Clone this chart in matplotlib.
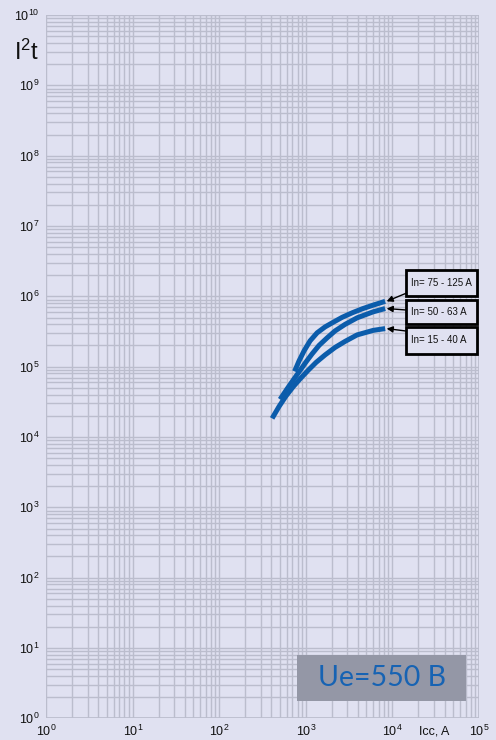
import matplotlib
matplotlib.use("Agg")
import matplotlib.pyplot as plt
import matplotlib.patches as patches
import numpy as np

plt.rcParams['font.family'] = ['Liberation Sans', 'DejaVu Sans']
plt.rcParams['mathtext.fontset'] = 'custom'
plt.rcParams['mathtext.rm'] = 'Liberation Sans'

# Let-through energy curves, I2t (A^2 s) vs prospective current Icc (A)
icc_75_125 = [740, 834, 953, 1118, 1348, 1667, 2063, 2621, 3421, 4464, 5983, 8235]
i2t_75_125 = [8.57e4, 1.21e5, 1.68e5, 2.33e5, 3.03e5, 3.68e5, 4.27e5, 5.03e5, 5.83e5, 6.64e5, 7.50e5, 8.49e5]

icc_50_63 = [503, 606, 730, 857, 1005, 1179, 1421, 1759, 2176, 2840, 3907, 5983, 8235]
i2t_50_63 = [3.43e4, 4.83e4, 6.71e4, 8.86e4, 1.17e5, 1.52e5, 2.01e5, 2.57e5, 3.23e5, 4.00e5, 4.95e5, 6.02e5, 6.71e5]

icc_15_40 = [407, 490, 590, 711, 857, 1060, 1312, 1667, 2176, 2840, 3907, 5983, 8235]
i2t_15_40 = [1.84e4, 2.72e4, 3.84e4, 5.16e4, 6.71e4, 8.86e4, 1.15e5, 1.47e5, 1.88e5, 2.29e5, 2.83e5, 3.28e5, 3.48e5]

curve_labels = ['In= 75 - 125 A', 'In= 50 - 63 A', 'In= 15 - 40 A']
x_decades = [0, 1, 2, 3, 4, 5]
y_decades = list(range(0, 11))

BG = '#e0e1f1'
GRID = '#bbbdcd'
LINE = '#0b5cab'

fig = plt.figure(figsize=(4.96, 7.40), dpi=100, facecolor=BG)
ax = fig.add_axes([0.0933, 0.0293, 0.8724, 0.9504])
ax.set_facecolor(BG)
ax.set_xscale('log')
ax.set_yscale('log')
ax.set_xlim(1, 1e5)
ax.set_ylim(1, 1e10)

ax.xaxis.set_minor_locator(matplotlib.ticker.LogLocator(base=10, subs=np.arange(2, 10), numticks=20))
ax.yaxis.set_minor_locator(matplotlib.ticker.LogLocator(base=10, subs=np.arange(2, 10), numticks=20))
ax.grid(True, which='both', color=GRID, linewidth=1.0)
for s in ax.spines.values():
    s.set_visible(False)
ax.axhline(1, color=GRID, linewidth=1.2)
ax.axvline(1, color=GRID, linewidth=1.2)
ax.axvline(1e5, color=GRID, linewidth=1.2)
ax.axhline(1e10, color=GRID, linewidth=1.2)

ax.set_xticks([10.0 ** k for k in x_decades])
ax.set_xticklabels([f'$\\mathregular{{10^{{{k}}}}}$' for k in x_decades])
ax.set_yticks([10.0 ** k for k in y_decades])
ax.set_yticklabels([f'$\\mathregular{{10^{{{k}}}}}$' for k in y_decades])
ax.xaxis.set_minor_formatter(matplotlib.ticker.NullFormatter())
ax.yaxis.set_minor_formatter(matplotlib.ticker.NullFormatter())
ax.tick_params(which='both', length=0, labelsize=9, colors='#111111')
ax.tick_params(axis='x', pad=4)
ax.tick_params(axis='y', pad=5)

for xs, ys in [(icc_15_40, i2t_15_40), (icc_50_63, i2t_50_63), (icc_75_125, i2t_75_125)]:
    ax.plot(xs, ys, color=LINE, linewidth=3.6, solid_capstyle='butt', solid_joinstyle='round', zorder=5)

# label boxes with arrows pointing at curve ends
boxes = [(0.6005, 0.6374), (0.5606, 0.5948), (0.518, 0.5568)]
ends = [(icc_75_125[-1], i2t_75_125[-1]), (icc_50_63[-1], i2t_50_63[-1]), (icc_15_40[-1], i2t_15_40[-1])]
starts = [0.6043, 0.5806, 0.5507]
bx0, bx1 = 0.8313, 0.9947
for (y0, y1), label, end, sy in zip(boxes, curve_labels, ends, starts):
    ax.add_patch(patches.Rectangle((bx0, y0), bx1 - bx0, y1 - y0, transform=ax.transAxes,
                                   facecolor=BG, edgecolor='black', linewidth=2.0, zorder=6))
    ax.text(bx0 + 0.011, (y0 + y1) / 2, label, transform=ax.transAxes, ha='left', va='center',
            fontsize=7.0, color='#111111', zorder=7)
    ax.annotate('', xy=(end[0] * 1.04, end[1]), xycoords='data',
                xytext=(bx0, sy), textcoords='axes fraction',
                arrowprops=dict(arrowstyle='-|>', color='black', lw=1.0, mutation_scale=9,
                                shrinkA=0, shrinkB=0), zorder=7)

# voltage plate
ax.add_patch(patches.Rectangle((0.5802, 0.0252), 0.3892, 0.0649, transform=ax.transAxes,
                               facecolor='#9497a6', edgecolor='none', zorder=6))
ax.text(0.7748, 0.0577, 'Ue=550 B', transform=ax.transAxes, ha='center', va='center',
        fontsize=20.5, color='#1763b3', family=['Lato', 'DejaVu Sans'], zorder=7)

fig.text(27 / 496, 1 - 52 / 740, 'I$\\mathregular{^2}$t', ha='center', va='center', fontsize=17,
         color='#111111')
fig.text(434 / 496, 1 - 731 / 740, 'Icc, A', ha='center', va='center', fontsize=9, color='#111111')

fig.savefig('out.png', dpi=100, facecolor=BG)
